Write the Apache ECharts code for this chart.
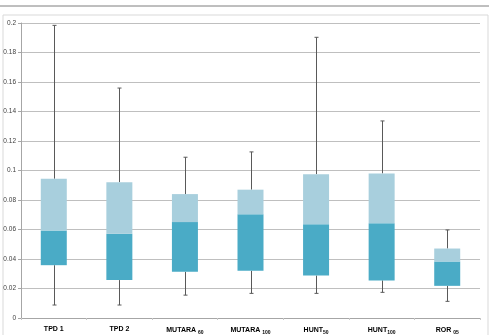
<!DOCTYPE html>
<html>
<head>
<meta charset="utf-8">
<script src="https://cdn.jsdelivr.net/npm/echarts@6/dist/echarts.min.js"></script>
<style>
  html, body { margin: 0; padding: 0; background: #fff; }
  #chart { width: 494px; height: 335px; }
</style>
</head>
<body>
<div id="chart"></div>
<script>
// categories: base name + subscript
var names = ['TPD 1', 'TPD 2', 'MUTARA ', 'MUTARA ', 'HUNT', 'HUNT', 'ROR '];
var subs = ['', '', '60', '100', '50', '100', '05'];

// box plot values
var lowV = [0.0088, 0.0088, 0.0155, 0.0167, 0.0167, 0.0174, 0.0113];
var q1 = [0.0358, 0.0257, 0.0313, 0.0320, 0.0288, 0.0255, 0.0218];
var median = [0.0593, 0.0572, 0.0650, 0.0703, 0.0635, 0.0642, 0.0383];
var q3 = [0.0944, 0.0921, 0.0840, 0.0870, 0.0975, 0.0980, 0.0471];
var highV = [0.1984, 0.1559, 0.1090, 0.1126, 0.1903, 0.1336, 0.0597];

var yTicks = [0, 0.02, 0.04, 0.06, 0.08, 0.1, 0.12, 0.14, 0.16, 0.18, 0.2];

var cats = names.map(function (n, i) { return String(i); });
var baseData = [], lowerBox = [], upperBox = [], whiskers = [];
q1.forEach(function (v, i) {
    baseData.push(v);
    lowerBox.push(+(median[i] - v).toFixed(4));
    upperBox.push(+(q3[i] - median[i]).toFixed(4));
    whiskers.push([i, lowV[i], q1[i], q3[i], highV[i]]);
});

var myCharts = echarts.init(document.getElementById('chart'));
var option = {
    animation: false,
    grid: { left: 21, right: 14, top: 23, bottom: 16 },
    graphic: [
        { type: 'line', shape: { x1: 0, y1: 6, x2: 489, y2: 6 }, style: { stroke: '#7f7f7f', lineWidth: 1 } },
        { type: 'rect', shape: { x: 3, y: 15, width: 485, height: 330 }, style: { fill: 'none', stroke: '#d9d9d9', lineWidth: 1 } }
    ],
    xAxis: {
        type: 'category',
        data: cats,
        axisLine: { lineStyle: { color: '#a6a6a6' } },
        axisTick: { show: true, length: 2, lineStyle: { color: '#c8c8c8' } },
        axisLabel: {
            interval: 0,
            hideOverlap: false,
            margin: 8,
            formatter: function (v) {
                var i = +v;
                return subs[i] ? '{b|' + names[i] + '}{s|' + subs[i] + '}' : '{b|' + names[i] + '}';
            },
            rich: {
                b: { fontFamily: 'Liberation Sans', fontWeight: 'bold', fontSize: 7, color: '#000' },
                s: { fontFamily: 'Liberation Sans', fontWeight: 'bold', fontSize: 5, color: '#000', verticalAlign: 'bottom', padding: [4, 0, 0, 0] }
            }
        }
    },
    yAxis: {
        type: 'value',
        min: 0,
        max: 0.2,
        interval: 0.02,
        axisLine: { show: true, lineStyle: { color: '#a6a6a6' } },
        axisTick: { show: true, length: 3, lineStyle: { color: '#a6a6a6' } },
        splitLine: { lineStyle: { color: '#bfbfbf', width: 1 } },
        axisLabel: {
            margin: 5,
            fontFamily: 'Liberation Sans',
            fontSize: 6.5,
            color: '#404040',
            formatter: function (v) {
                var t = yTicks.filter(function (x) { return Math.abs(x - v) < 1e-9; });
                return t.length ? String(t[0]) : '';
            }
        }
    },
    series: [
        {
            type: 'custom',
            z: 1,
            data: whiskers,
            renderItem: function (params, api) {
                var x = api.value(0);
                var pLow = api.coord([x, api.value(1)]);
                var pQ1 = api.coord([x, api.value(2)]);
                var pQ3 = api.coord([x, api.value(3)]);
                var pHigh = api.coord([x, api.value(4)]);
                var cx = Math.round(pLow[0]) + 0.5;
                var st = { stroke: '#595959', lineWidth: 1 };
                return {
                    type: 'group',
                    children: [
                        { type: 'line', shape: { x1: cx, y1: pHigh[1], x2: cx, y2: pQ3[1] }, style: st },
                        { type: 'line', shape: { x1: cx, y1: pQ1[1], x2: cx, y2: pLow[1] }, style: st },
                        { type: 'line', shape: { x1: cx - 2, y1: pHigh[1], x2: cx + 2, y2: pHigh[1] }, style: st },
                        { type: 'line', shape: { x1: cx - 2, y1: pLow[1], x2: cx + 2, y2: pLow[1] }, style: st }
                    ]
                };
            }
        },
        {
            type: 'bar',
            stack: 'box',
            barWidth: 26,
            z: 2,
            itemStyle: { color: 'transparent' },
            data: baseData
        },
        {
            type: 'bar',
            stack: 'box',
            z: 2,
            itemStyle: { color: '#4aabc6' },
            data: lowerBox
        },
        {
            type: 'bar',
            stack: 'box',
            z: 2,
            itemStyle: { color: '#a8cfdd' },
            data: upperBox
        }
    ]
};
myCharts.setOption(option);
</script>
</body>
</html>
